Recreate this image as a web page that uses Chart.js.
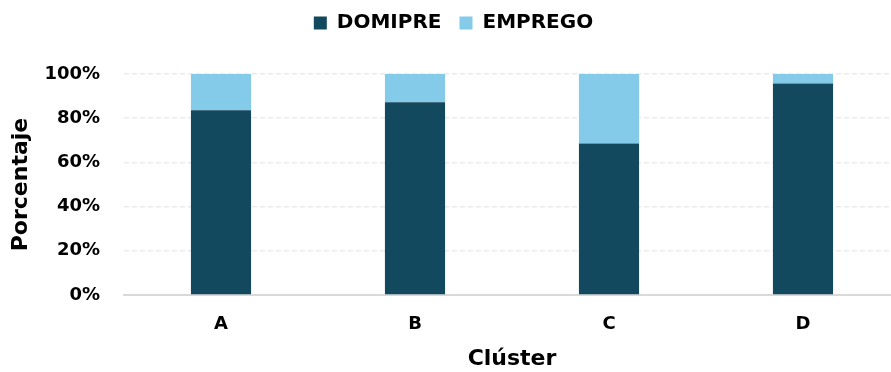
<!DOCTYPE html>
<html>
<head>
<meta charset="utf-8">
<script src="https://cdn.jsdelivr.net/npm/chart.js@4"></script>
<style>
  html, body { margin: 0; padding: 0; background: #fff; }
  #wrap { width: 891px; height: 372px; }
</style>
</head>
<body>
<div id="wrap"><canvas id="clusterChart"></canvas></div>
<script>
// porcentaje por clúster (DOMIPRE + EMPREGO = 100)
const clusters = ['A', 'B', 'C', 'D'];
const domipre = [83.6, 87.2, 68.6, 95.7];
const emprego = [16.4, 12.8, 31.4, 4.3];

const fuente = 'DejaVu Sans';
const oscuro = '#13495f';
const claro = '#84cbea';

// leyenda con altura fija y algo desplazada, y eje x que sigue hasta el borde
const ajusteLayout = {
  id: 'ajusteLayout',
  beforeInit(chart) {
    const fit = chart.legend.fit;
    chart.legend.fit = function () {
      fit.call(this);
      this.height = 74;
    };
  },
  afterLayout(chart) {
    const ley = chart.legend;
    ley.top -= 5;
    ley.left += 8;
    ley.right += 8;
    const extra = 9;
    chart.chartArea.right += extra;
    chart.chartArea.width += extra;
    const x = chart.scales.x;
    x.right += extra;
    x.width += extra;
    x.configure();
  }
};

function maakGrafiek() {
  const ctx = document.getElementById('clusterChart').getContext('2d');
  return new Chart(ctx, {
    type: 'bar',
    data: {
      labels: clusters,
      datasets: [{
        label: 'DOMIPRE',
        data: domipre,
        backgroundColor: oscuro
      }, {
        label: 'EMPREGO',
        data: emprego,
        backgroundColor: claro
      }]
    },
    options: {
      responsive: true,
      maintainAspectRatio: false,
      animation: false,
      barPercentage: 0.31,
      categoryPercentage: 1,
      plugins: {
        tooltip: { enabled: false },
        legend: {
          position: 'top',
          labels: {
            boxWidth: 13,
            boxHeight: 13,
            padding: 18,
            color: '#000',
            font: { family: fuente, size: 20, weight: 'bold' }
          }
        }
      },
      scales: {
        x: {
          stacked: true,
          grid: { display: false, drawTicks: false },
          border: { display: true, color: '#d9d9d9', width: 2 },
          ticks: {
            padding: 19,
            color: '#000',
            font: { family: fuente, size: 18, weight: 'bold' }
          },
          title: {
            display: true,
            text: 'Clúster',
            color: '#000',
            padding: { top: 9, bottom: 0 },
            font: { family: fuente, size: 22, weight: 'bold' }
          },
          afterFit: function (scale) { scale.height = 77; }
        },
        y: {
          stacked: true,
          min: 0,
          max: 100,
          grid: { color: '#ebebeb', lineWidth: 1.5, drawTicks: false },
          border: { display: false, dash: [5, 3] },
          ticks: {
            stepSize: 20,
            padding: 24,
            color: '#000',
            font: { family: fuente, size: 18, weight: 'bold' },
            callback: function (v) { return v + '%'; }
          },
          title: {
            display: true,
            text: 'Porcentaje',
            color: '#000',
            padding: { top: 8, bottom: 8 },
            font: { family: fuente, size: 22, weight: 'bold' }
          },
          afterFit: function (scale) { scale.width = 124; }
        }
      }
    },
    plugins: [ajusteLayout]
  });
}

maakGrafiek();
</script>
</body>
</html>
